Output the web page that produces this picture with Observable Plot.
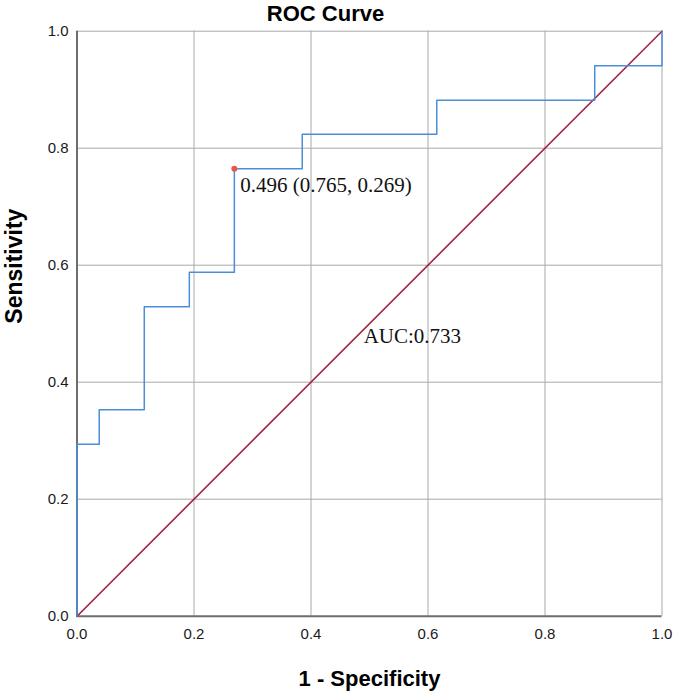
<!DOCTYPE html>
<html>
<head>
<meta charset="utf-8">
<script src="https://cdn.jsdelivr.net/npm/d3@7"></script>
<script src="https://cdn.jsdelivr.net/npm/@observablehq/plot@0.6"></script>
<style>
  html, body { margin: 0; padding: 0; background: #fff; }
  #chart svg { display: block; }
  #chart svg g[aria-label="x-axis tick label"],
  #chart svg g[aria-label="y-axis tick label"] { font-size: 15px !important; }
  #chart svg g[aria-label="x-axis tick label"] text,
  #chart svg g[aria-label="y-axis tick label"] text { font-size: 15px !important; }
</style>
</head>
<body>
<div id="chart"></div>
<script>
// ROC curve points: 1 - specificity (false positive rate) and sensitivity
const fpr = [0, 0, 0.038, 0.115, 0.192, 0.269, 0.385, 0.615, 0.885, 1];
const tpr = [0, 0.294, 0.353, 0.529, 0.588, 0.765, 0.824, 0.882, 0.941, 1];

// Optimal cut-off (Youden index) and its label
const cutoff = {x: 0.269, y: 0.765, label: "0.496 (0.765, 0.269)"};
const aucText = "AUC:0.733";
const aucPos = {x: 0.49, y: 0.479};

const ticks = [0, 0.2, 0.4, 0.6, 0.8, 1.0];
const tickLabels = ["0.0", "0.2", "0.4", "0.6", "0.8", "1.0"];

const roc = fpr.map((x, i) => ({x, y: tpr[i]}));
const diag = [{x: 0, y: 0}, {x: 1, y: 1}];

const sans = "Liberation Sans, Arial, sans-serif";
const serif = "Liberation Serif, Times New Roman, serif";

const chart = Plot.plot({
  width: 674,
  height: 693,
  marginLeft: 76.5,
  marginRight: 12.5,
  marginTop: 30.7,
  marginBottom: 77.3,
  style: {fontFamily: sans, fontSize: "15px", background: "#fff"},
  x: {domain: [0, 1], ticks, tickFormat: (d, i) => tickLabels[i]},
  y: {domain: [0, 1], ticks, tickFormat: (d, i) => tickLabels[i]},
  marks: [
    Plot.ruleX(ticks.slice(1), {stroke: "#a8a8a8", strokeWidth: 1}),
    Plot.ruleY(ticks.slice(1), {stroke: "#a8a8a8", strokeWidth: 1}),
    Plot.ruleX([0], {stroke: "#6e6e6e", strokeWidth: 2}),
    Plot.ruleY([0], {stroke: "#6e6e6e", strokeWidth: 2}),
    Plot.axisX({ticks, tickFormat: (d, i) => tickLabels[i], tickSize: 0, tickPadding: 12, fontSize: 15, fill: "#1a1a1a", label: null}),
    Plot.axisY({ticks, tickFormat: (d, i) => tickLabels[i], tickSize: 0, tickPadding: 8.5, fontSize: 15, fill: "#1a1a1a", label: null}),
    Plot.line(diag, {x: "x", y: "y", stroke: "#a3213f", strokeWidth: 1.6}),
    Plot.line(roc, {x: "x", y: "y", curve: "step-after", stroke: "#4a8fd6", strokeWidth: 1.5}),
    Plot.dot([cutoff], {x: "x", y: "y", r: 3, fill: "#e8574a", stroke: "none"}),
    Plot.text([cutoff], {x: "x", y: "y", text: "label", textAnchor: "start", dx: 6, dy: 17, fontSize: 21, fontFamily: serif, fill: "#111"}),
    Plot.text([aucPos], {x: "x", y: "y", text: () => aucText, textAnchor: "start", fontSize: 21, fontFamily: serif, fill: "#111"}),
    Plot.text(["ROC Curve"], {frameAnchor: "top-left", lineAnchor: "middle", textAnchor: "middle", dx: 248.5, dy: -17.7, fontSize: 22, fontWeight: "bold", fill: "#000"}),
    Plot.text(["1 - Specificity"], {frameAnchor: "bottom", lineAnchor: "middle", dy: 62.3, fontSize: 22, fontWeight: "bold", fill: "#000"}),
    Plot.text(["Sensitivity"], {frameAnchor: "left", dx: -62, rotate: -90, fontSize: 23, fontWeight: "bold", fill: "#000"})
  ]
});

document.getElementById("chart").appendChild(chart);
</script>
</body>
</html>
